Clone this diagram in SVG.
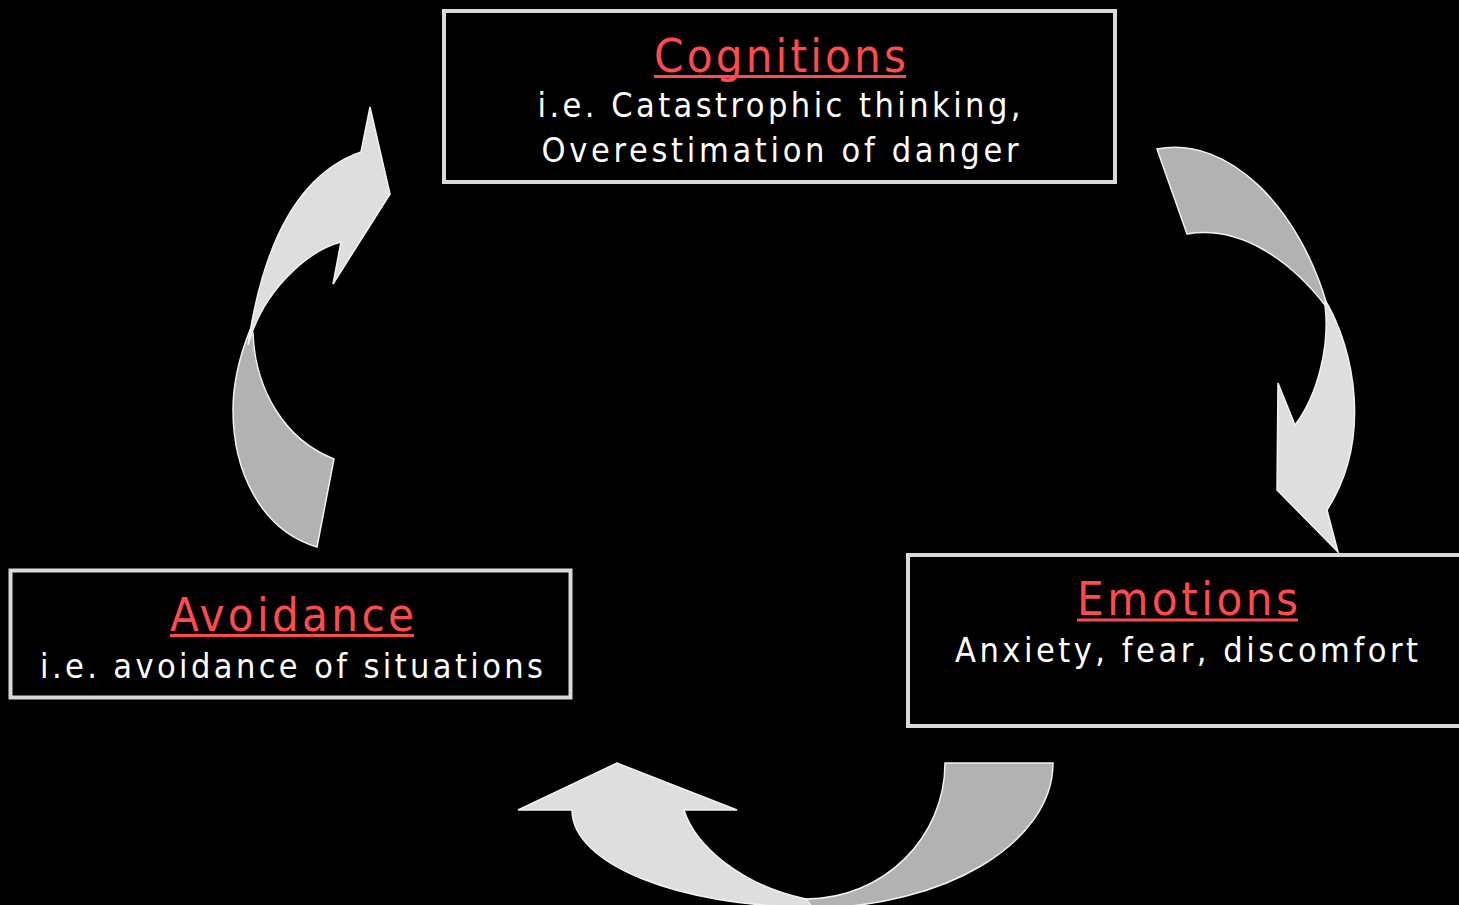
<svg xmlns="http://www.w3.org/2000/svg" width="1459" height="905" viewBox="0 0 1459 905">
<style>
.box{fill:#000;stroke:#d9d9d9;stroke-width:4}
.t{font-family:"DejaVu Sans Condensed","DejaVu Sans",sans-serif;text-anchor:middle}
.title{fill:#ff4b4b;font-size:47px}
.body{fill:#ffffff;font-size:34px}
.ul{stroke:#ff4b4b;stroke-width:3}
.lt{fill:#dedede;stroke:#f2f2f2;stroke-width:1.5;stroke-linejoin:miter}
.dk{fill:#b2b2b2;stroke:#f2f2f2;stroke-width:1.5}
</style>
<rect x="0" y="0" width="1459" height="905" fill="#000"/>
<g id="connectors">
  <g id="arrow-avoidance-cognitions">
    <path class="dk" d="M317,547 C260,530 233,470 233,410 C233,380 240,355 250,330 L253,333 C255,390 285,440 334,459 Z"/>
    <path class="lt" d="M248,345 C262,250 295,175 361,152 L370,107 L390,194 L333,284 L341,242 C310,250 270,285 253,330 Z"/>
  </g>
  <g id="arrow-cognitions-emotions">
    <path class="dk" d="M1157,149 C1230,135 1300,210 1327,305 L1325,305 C1290,260 1240,225 1187,234 Z"/>
    <path class="lt" d="M1325,300 C1355,350 1372,440 1327,510 L1338,552 L1277,490 L1278,383 L1295,425 C1318,395 1330,345 1325,305 Z"/>
  </g>
  <g id="arrow-emotions-avoidance">
    <path class="dk" d="M1053,763 C1053,843 944,908 810,908 L806,899 C883,899 945,838 945,763 Z"/>
    <path class="lt" d="M518,810 L617,763 L737,810 L684,810 C695,845 740,885 806,899 L812,907 C679,907 572,864 572,810 Z"/>
  </g>
</g>
<g id="node-cognitions">
  <rect class="box" x="444" y="11" width="671" height="171"/>
  <text class="t title" x="780" y="72" textLength="252" lengthAdjust="spacing">Cognitions</text>
  <line class="ul" x1="654" y1="76.5" x2="906" y2="76.5"/>
  <text class="t body" x="779" y="117" textLength="483" lengthAdjust="spacing">i.e. Catastrophic thinking,</text>
  <text class="t body" x="780" y="162" textLength="477" lengthAdjust="spacing">Overestimation of danger</text>
</g>
<g id="node-avoidance">
  <rect class="box" x="10.5" y="570.5" width="560" height="127"/>
  <text class="t title" x="292" y="631" textLength="244" lengthAdjust="spacing">Avoidance</text>
  <line class="ul" x1="170" y1="635.5" x2="414" y2="635.5"/>
  <text class="t body" x="291.5" y="678" textLength="503" lengthAdjust="spacing">i.e. avoidance of situations</text>
</g>
<g id="node-emotions">
  <rect class="box" x="908" y="555" width="560" height="171"/>
  <text class="t title" x="1187.5" y="615" textLength="221" lengthAdjust="spacing">Emotions</text>
  <line class="ul" x1="1077" y1="620" x2="1298" y2="620"/>
  <text class="t body" x="1186.5" y="662" textLength="463" lengthAdjust="spacing">Anxiety, fear, discomfort</text>
</g>
</svg>
